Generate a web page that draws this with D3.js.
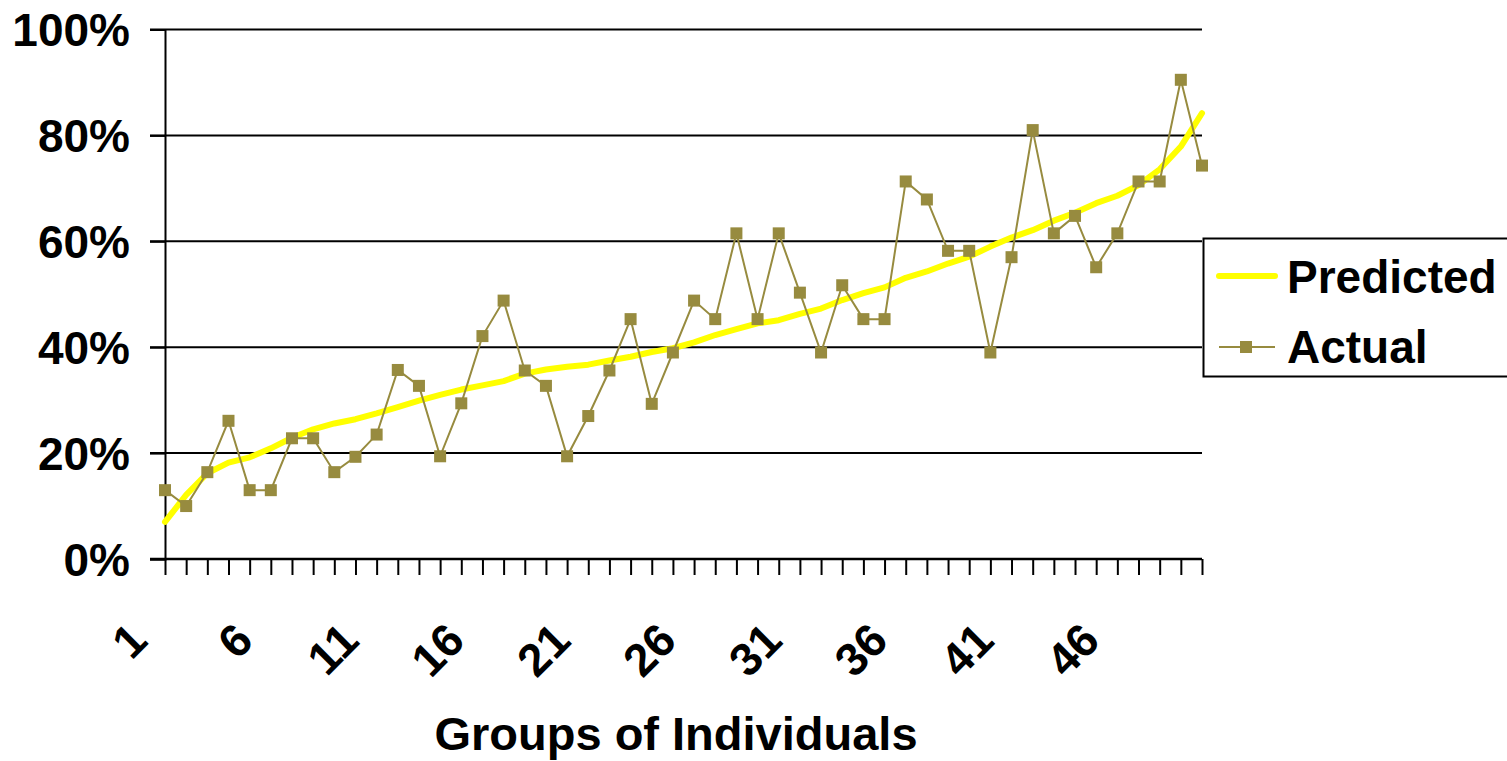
<!DOCTYPE html>
<html>
<head>
<meta charset="utf-8">
<script src="https://cdn.jsdelivr.net/npm/d3@7"></script>
<style>
  html, body { margin: 0; padding: 0; background: #fff; }
  svg { display: block; }
  text { font-family: "Liberation Sans", Arial, sans-serif; font-weight: bold; fill: #000; }
</style>
</head>
<body>
<svg id="chart" width="1507" height="761"></svg>
<script>
const groups = d3.range(1, 51);
const predicted = [7.0, 12.1, 16.2, 18.2, 19.2, 20.9, 22.9, 24.5, 25.6, 26.4,
  27.5, 28.7, 29.9, 31.0, 32.0, 32.8, 33.6, 35.0, 35.8, 36.3,
  36.7, 37.5, 38.2, 39.1, 39.8, 40.9, 42.3, 43.4, 44.5, 45.1,
  46.3, 47.3, 48.9, 50.2, 51.3, 53.1, 54.3, 55.8, 57.1, 59.0,
  60.7, 62.1, 63.9, 65.4, 67.2, 68.6, 70.6, 73.6, 77.9, 84.2];
const actual = [13.0, 10.0, 16.4, 26.1, 13.0, 13.0, 22.8, 22.8, 16.4, 19.3,
  23.5, 35.7, 32.7, 19.4, 29.4, 42.1, 48.8, 35.6, 32.7, 19.4,
  27.0, 35.6, 45.3, 29.3, 39.0, 48.8, 45.3, 61.5, 45.3, 61.5,
  50.3, 39.0, 51.7, 45.3, 45.3, 71.3, 67.9, 58.2, 58.2, 39.0,
  57.0, 81.0, 61.5, 64.8, 55.1, 61.5, 71.3, 71.3, 90.5, 74.3];
const yTicks = [0, 20, 40, 60, 80, 100];
const xLabelEvery = 5;
const seriesNames = ["Predicted", "Actual"];
const xTitle = "Groups of Individuals";

const colPred = "#FFFF00";
const colAct = "#978B3F";

const svg = d3.select("#chart");
const pLeft = 165, pRight = 1202, pTop = 29.5, pBottom = 559;

const x = d3.scalePoint().domain(groups).range([pLeft, pRight]);
const y = d3.scaleLinear().domain([0, 100]).range([pBottom, pTop]);

// gridlines
svg.append("g").selectAll("line").data(yTicks).join("line")
  .attr("x1", pLeft - 15).attr("x2", pRight)
  .attr("y1", d => y(d)).attr("y2", d => y(d))
  .attr("stroke", "#000").attr("stroke-width", 2);

// y axis
const yAxis = svg.append("g").attr("transform", `translate(${pLeft},0)`)
  .call(d3.axisLeft(y).tickValues(yTicks).tickSize(15).tickPadding(20).tickFormat(d => d + "%"));
yAxis.select(".domain").attr("stroke", "#000").attr("stroke-width", 2);
yAxis.selectAll(".tick line").attr("stroke", "#000").attr("stroke-width", 2);
yAxis.selectAll("text").attr("font-size", 46).attr("dy", "0.35em")
  .style("font-family", '"Liberation Sans", Arial, sans-serif').style("font-weight", "bold");

// x axis
const xAxis = svg.append("g").attr("transform", `translate(0,${pBottom})`)
  .call(d3.axisBottom(x).tickSize(16).tickSizeOuter(0)
    .tickFormat(d => ((d - 1) % xLabelEvery === 0 ? d : "")));
xAxis.select(".domain").attr("stroke", "#000").attr("stroke-width", 2.5)
  .attr("d", `M${pLeft - 15},0H${pRight}`);
xAxis.selectAll(".tick line").attr("stroke", "#000").attr("stroke-width", 2);
xAxis.selectAll("text")
  .attr("font-size", 46)
  .attr("x", 0).attr("y", 0).attr("dy", null)
  .attr("text-anchor", "end")
  .attr("transform", "translate(-16,84) rotate(-45)")
  .style("font-family", '"Liberation Sans", Arial, sans-serif').style("font-weight", "bold");

// predicted line
svg.append("path").datum(predicted)
  .attr("fill", "none").attr("stroke", colPred).attr("stroke-width", 6)
  .attr("stroke-linejoin", "round").attr("stroke-linecap", "round")
  .attr("d", d3.line().x((d, i) => x(groups[i])).y(d => y(d)));

// actual line
svg.append("path").datum(actual)
  .attr("fill", "none").attr("stroke", colAct).attr("stroke-width", 2)
  .attr("d", d3.line().x((d, i) => x(groups[i])).y(d => y(d)));
svg.append("g").selectAll("rect").data(actual).join("rect")
  .attr("x", (d, i) => x(groups[i]) - 6).attr("y", d => y(d) - 6)
  .attr("width", 12).attr("height", 12).attr("fill", colAct);

// x title
svg.append("text").attr("x", 676).attr("y", 750).attr("text-anchor", "middle")
  .attr("font-size", 47).text(xTitle);

// legend
const lg = svg.append("g");
lg.append("rect").attr("x", 1203.5).attr("y", 238.5).attr("width", 330).attr("height", 138)
  .attr("fill", "#fff").attr("stroke", "#000").attr("stroke-width", 2);
lg.append("line").attr("x1", 1219).attr("x2", 1275).attr("y1", 276).attr("y2", 276)
  .attr("stroke", colPred).attr("stroke-width", 6).attr("stroke-linecap", "round");
lg.append("line").attr("x1", 1219).attr("x2", 1275).attr("y1", 347).attr("y2", 347)
  .attr("stroke", colAct).attr("stroke-width", 2);
lg.append("rect").attr("x", 1240).attr("y", 341).attr("width", 12).attr("height", 12).attr("fill", colAct);
lg.append("text").attr("x", 1287).attr("y", 293).attr("font-size", 46).text(seriesNames[0]);
lg.append("text").attr("x", 1287).attr("y", 363).attr("font-size", 46).text(seriesNames[1]);
</script>
</body>
</html>
